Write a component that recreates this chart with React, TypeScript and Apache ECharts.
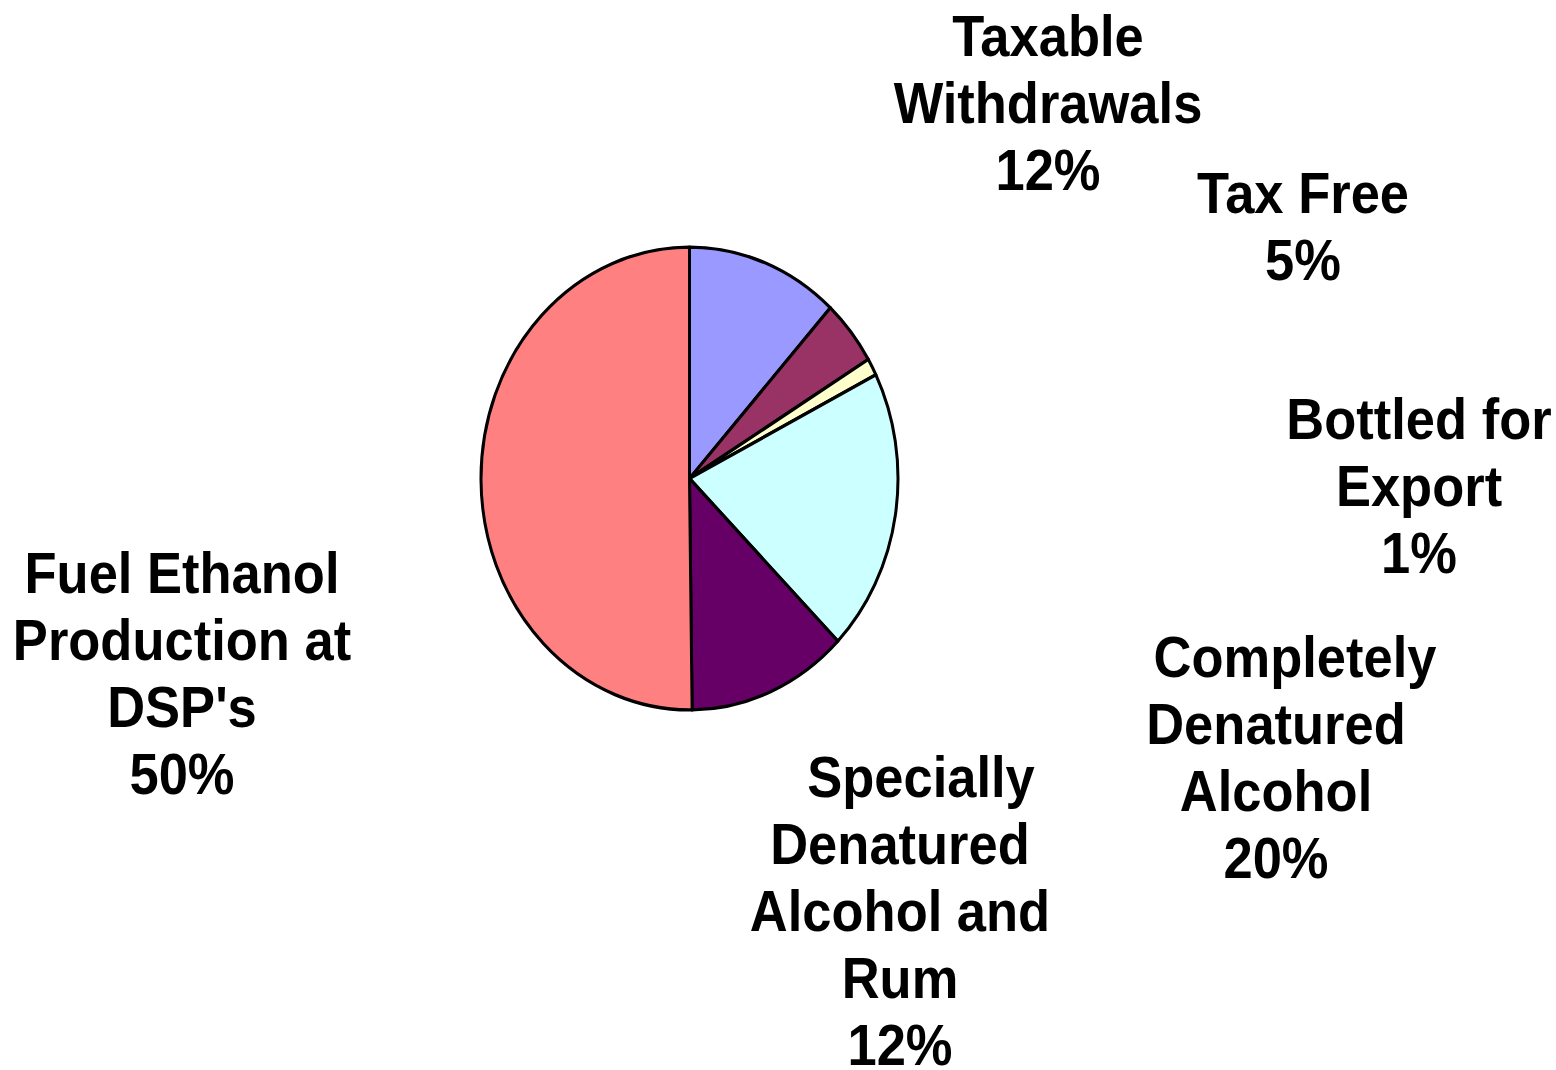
import React, { useEffect, useRef } from "react";
import * as echarts from "echarts";

const categories = [
  "Taxable Withdrawals",
  "Tax Free",
  "Bottled for Export",
  "Completely Denatured Alcohol",
  "Specially Denatured Alcohol and Rum",
  "Fuel Ethanol Production at DSP's",
];
const values = [11.8, 4.6, 1.2, 19.8, 12.4, 50.2];
const colors = ["#9999FF", "#993366", "#FFFFCC", "#CCFFFF", "#660066", "#FF8080"];
const labelLines = [
  ["Taxable", "Withdrawals"],
  ["Tax Free"],
  ["Bottled for", "Export"],
  ["Completely", "Denatured", "Alcohol"],
  ["Specially", "Denatured", "Alcohol and", "Rum"],
  ["Fuel Ethanol", "Production at", "DSP's"],
];

// layout (not data)
const CX = 689.5;
const CY = 478.5;
const R = 208.5;
const SY = 1.11;
const FONT = 'bold 52.5px "Liberation Sans", Arial, Helvetica, sans-serif';
const PITCH = 67;
const labelLayout = [
  { x: 1048, y: 36, firstDx: 0 },
  { x: 1303, y: 193, firstDx: 0 },
  { x: 1419, y: 419, firstDx: 0 },
  { x: 1276, y: 657, firstDx: 19 },
  { x: 900, y: 777, firstDx: 21 },
  { x: 182, y: 573, firstDx: 0 },
];

export default function App() {
  const ref = useRef<HTMLDivElement>(null);
  useEffect(() => {
    if (!ref.current) return;
    const chart = echarts.init(ref.current, undefined, { renderer: "svg" });
    const total = values.reduce((a, b) => a + b, 0);
    const cum: number[] = [];
    values.reduce((acc, v, i) => {
      cum[i] = acc;
      return acc + v;
    }, 0);

    const texts: any[] = [];
    labelLines.forEach((lines, i) => {
      const pct = Math.round((values[i] / total) * 100) + "%";
      const all = [...lines, pct];
      const lay = labelLayout[i];
      all.forEach((t, j) => {
        texts.push({
          type: "text",
          x: lay.x + (j === 0 ? lay.firstDx : 0),
          y: lay.y + j * PITCH,
          scaleY: SY,
          silent: true,
          style: {
            text: t,
            font: FONT,
            fill: "#000",
            textAlign: "center",
            textVerticalAlign: "middle",
            verticalAlign: "middle",
          },
        });
      });
    });

    chart.setOption({
      animation: false,
      backgroundColor: "#ffffff",
      series: [
        {
          type: "custom",
          coordinateSystem: "none",
          data: values.map((v, i) => ({ value: v, name: categories[i] })),
          renderItem: (params: any, api: any) => {
            const i = params.dataIndex;
            const v = api.value(0);
            const start = -Math.PI / 2 + (2 * Math.PI * cum[i]) / total;
            const end = start + (2 * Math.PI * v) / total;
            return {
              type: "sector",
              x: CX,
              y: CY,
              scaleY: SY,
              shape: { cx: 0, cy: 0, r: R, r0: 0, startAngle: start, endAngle: end, clockwise: true },
              style: {
                fill: colors[i],
                stroke: "#000000",
                lineWidth: 3,
                lineJoin: "round",
              },
            };
          },
        },
      ],
      graphic: { elements: texts },
    });
    return () => chart.dispose();
  }, []);
  return (
    <div
      ref={ref}
      style={{ position: "fixed", left: 0, top: 0, width: 1556, height: 1070, background: "#fff" }}
    />
  );
}
